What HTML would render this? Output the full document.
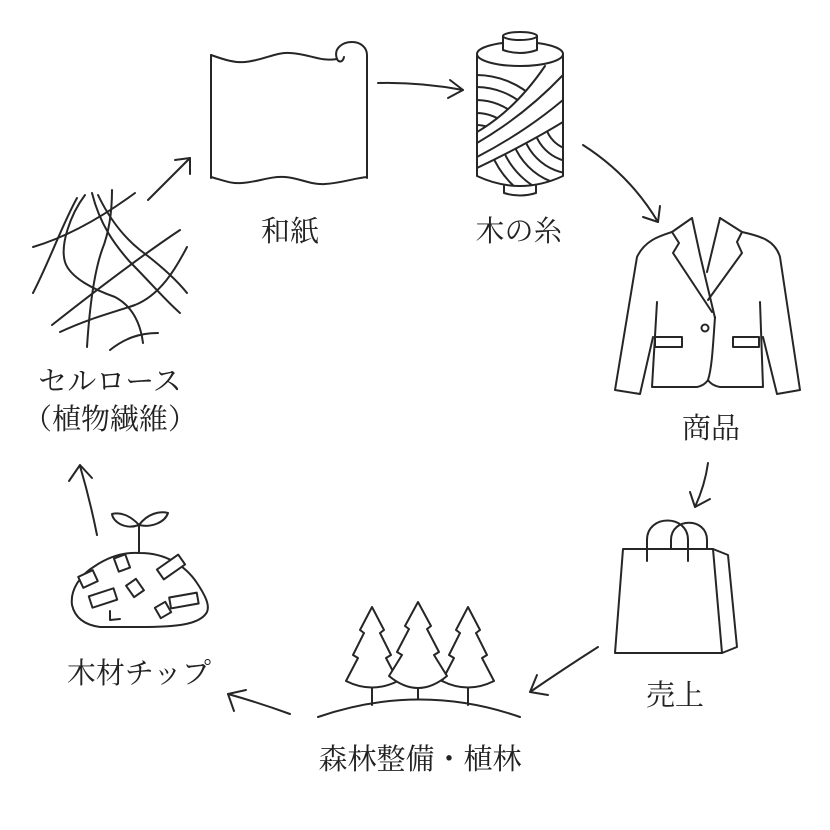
<!DOCTYPE html>
<html><head><meta charset="utf-8">
<style>
html,body{margin:0;padding:0;background:#fff;}
svg{display:block;}
text{font-family:"Liberation Serif","Noto Serif CJK JP","Noto Serif CJK SC",serif;fill:#222;font-size:29px;text-anchor:middle;}
</style></head>
<body>
<svg width="830" height="830" viewBox="0 0 830 830" xmlns="http://www.w3.org/2000/svg">
<defs>
<clipPath id="body"><path d="M477,54 Q520,80 563,54 L563,176 Q520,196 477,176 Z"/></clipPath>
<clipPath id="upper"><path d="M470,30 L570,30 L570,66 L545,66 Q515,110 477,132 L470,132 Z"/></clipPath>
<clipPath id="lower"><path d="M470,172 L477,168 Q525,145 563,122 L570,122 L570,205 L470,205 Z"/></clipPath>
</defs>
<g fill="none" stroke="#262626" stroke-width="2" stroke-linecap="round" stroke-linejoin="round">

<!-- Paper -->
<path d="M211,55 L211,178"/>
<path d="M211,55 C225,60 235,63 245,62 C265,60 275,52 290,53 C310,54 320,62 337,59"/>
<path d="M337,59 C333,48 343,42 352,42 C361,42 367,48 367,55 L367,178"/>
<path d="M337,59 C339,63 343,62 344,57"/>
<path d="M211,177 C225,181 232,184 242,183 C258,182 270,176 285,177 C300,178 310,185 325,184 C342,183 355,178 367,177"/>

<!-- arrow paper -> spool -->
<path d="M378,83 Q420,82 463,90"/>
<path d="M450,80 L463,90 L448,98"/>

<!-- Spool -->
<g clip-path="url(#body)">
  <g clip-path="url(#upper)">
    <circle cx="476" cy="160" r="35"/>
    <circle cx="476" cy="160" r="47"/>
    <circle cx="476" cy="160" r="60"/>
    <circle cx="476" cy="160" r="73"/>
    <circle cx="476" cy="160" r="85"/>
  </g>
  <g clip-path="url(#lower)">
    <circle cx="575" cy="120" r="30"/>
    <circle cx="575" cy="120" r="42"/>
    <circle cx="575" cy="120" r="54"/>
    <circle cx="575" cy="120" r="66"/>
    <circle cx="575" cy="120" r="78"/>
    <circle cx="575" cy="120" r="90"/>
  </g>
  <path d="M477,132 Q515,110 545,66"/>
  <path d="M477,143 Q525,115 563,75"/>
  <path d="M477,157 Q525,132 563,100"/>
  <path d="M477,168 Q525,145 563,122"/>
</g>
<path d="M477,54 L477,176 Q520,196 563,176 L563,54"/>
<ellipse cx="520" cy="54" rx="43" ry="12"/>
<path d="M503,36 L503,50 Q520,56 537,50 L537,36" fill="#fff"/>
<ellipse cx="520" cy="36" rx="17" ry="4" fill="#fff"/>
<path d="M504,186 L504,193 Q520,198 536,193 L536,186"/>

<!-- arrow spool -> jacket -->
<path d="M583,145 Q630,175 658,222"/>
<path d="M643,217 L658,222 L660,206"/>

<!-- Jacket -->
<path d="M672,232 C660,236 645,240 637,257 L615,390 L640,394 L653,337"/>
<path d="M657,302 L652,387 L697,387 C702,386 706,383 708,380 C710,383 714,386 720,387 L763,387 L760,302"/>
<path d="M763,337 L777,394 L800,390 L780,257 C775,240 760,236 742,232"/>
<path d="M672,232 L692,218 L700,255 L715,318"/>
<path d="M672,232 L679,243 L673,253 L712,312"/>
<path d="M715,317 C713,345 712,368 708,380"/>
<path d="M720,218 L742,232 L737,242 L742,253 L708,300"/>
<path d="M720,218 L707,272"/>
<circle cx="705" cy="328" r="3.5"/>
<rect x="655" y="337" width="27" height="10"/>
<rect x="733" y="337" width="26" height="10"/>

<!-- arrow jacket -> bag -->
<path d="M708,463 Q705,485 695,507"/>
<path d="M690,492 L695,507 L710,499"/>

<!-- Bag -->
<path d="M623,549 L713,549 L722,653 L615,653 Z"/>
<path d="M713,549 L728,555 L737,647 L722,653"/>
<path d="M647,561 L647,540 C647,514 688,514 688,540 L688,561"/>
<path d="M671,549 L671,540 C671,517 707,517 707,540 L707,549"/>

<!-- arrow bag -> forest -->
<path d="M598,647 Q565,668 530,692"/>
<path d="M537,675 L530,692 L548,695"/>

<!-- Forest -->
<path d="M372,607 L384,630 L380,633 L391,655 L386,658 L398,681 Q372,694 346,681 L358,658 L353,655 L364,633 L360,630 Z" fill="#fff"/>
<path d="M468,607 L480,630 L476,633 L487,655 L482,658 L494,681 Q468,694 442,681 L454,658 L449,655 L460,633 L456,630 Z" fill="#fff"/>
<path d="M418,602 L431,626 L427,629 L439,652 L434,655 L447,676 Q418,700 389,676 L402,655 L397,652 L409,629 L405,626 Z" fill="#fff"/>
<path d="M372,688 L372,705"/>
<path d="M418,689 L418,699"/>
<path d="M468,688 L468,705"/>
<path d="M318,717 Q420,682 520,717"/>

<!-- arrow forest -> chips -->
<path d="M290,714 Q260,703 228,694"/>
<path d="M246,690 L228,694 L234,711"/>

<!-- Chips mound -->
<path d="M95,566 C110,556 125,552 140,553 C165,553 185,565 197,583 C205,595 210,605 207,612 C200,625 175,627 140,627 L100,627 C85,625 75,618 72,605 C70,590 80,575 95,566"/>
<path d="M139,525 L139,553"/>
<path d="M139,525 C130,515 120,512 112,514 C113,522 125,530 139,525 Z"/>
<path d="M139,525 C148,513 160,511 168,513 C165,522 152,528 139,525 Z"/>
<g fill="#fff">
<rect x="-6" y="-7" width="12" height="14" transform="translate(122,563) rotate(-20)"/>
<rect x="-8" y="-6" width="16" height="12" transform="translate(88,579) rotate(-25)"/>
<rect x="-13" y="-6" width="26" height="12" transform="translate(171,567) rotate(-35)"/>
<rect x="-13" y="-6" width="26" height="12" transform="translate(103,598) rotate(-18)"/>
<rect x="-6" y="-7" width="12" height="14" transform="translate(135,588) rotate(-35)"/>
<rect x="-14" y="-6" width="28" height="11" transform="translate(184,601) rotate(-10)"/>
<rect x="-6" y="-6" width="12" height="12" transform="translate(163,610) rotate(-30)"/>
</g>
<path d="M110,611 L110,620 L120,619"/>

<!-- arrow chips -> cellulose -->
<path d="M97,535 Q90,500 80,466"/>
<path d="M69,481 L80,465 L92,478"/>

<!-- Fibers -->
<path d="M33,247 C70,236 105,215 135,193"/>
<path d="M77,198 C62,225 50,260 33,293"/>
<path d="M85,195 C70,215 60,245 65,262 C70,278 95,290 115,297 C130,305 140,320 143,343"/>
<path d="M92,193 C100,225 115,245 130,262 C150,282 165,300 180,313"/>
<path d="M98,195 C110,220 125,238 140,250 C160,265 175,278 187,293"/>
<path d="M112,190 C112,215 108,235 102,250 C95,270 90,300 87,347"/>
<path d="M52,325 C90,295 135,260 180,230"/>
<path d="M60,332 C90,318 115,312 135,305 C160,295 175,270 187,247"/>
<path d="M110,350 C125,338 140,333 158,333"/>

<!-- arrow cellulose -> paper -->
<path d="M148,200 L190,158"/>
<path d="M175,160 L190,158 L190,174"/>
</g>

<text x="290" y="241">和紙</text>
<text x="519" y="241">木の糸</text>
<text x="711" y="438">商品</text>
<text x="675" y="705">売上</text>
<text x="420" y="769">森林整備・植林</text>
<text x="139" y="683">木材チップ</text>
<text x="110" y="391">セルロース</text>
<text x="110" y="429">（植物繊維）</text>
</svg>
</body></html>
